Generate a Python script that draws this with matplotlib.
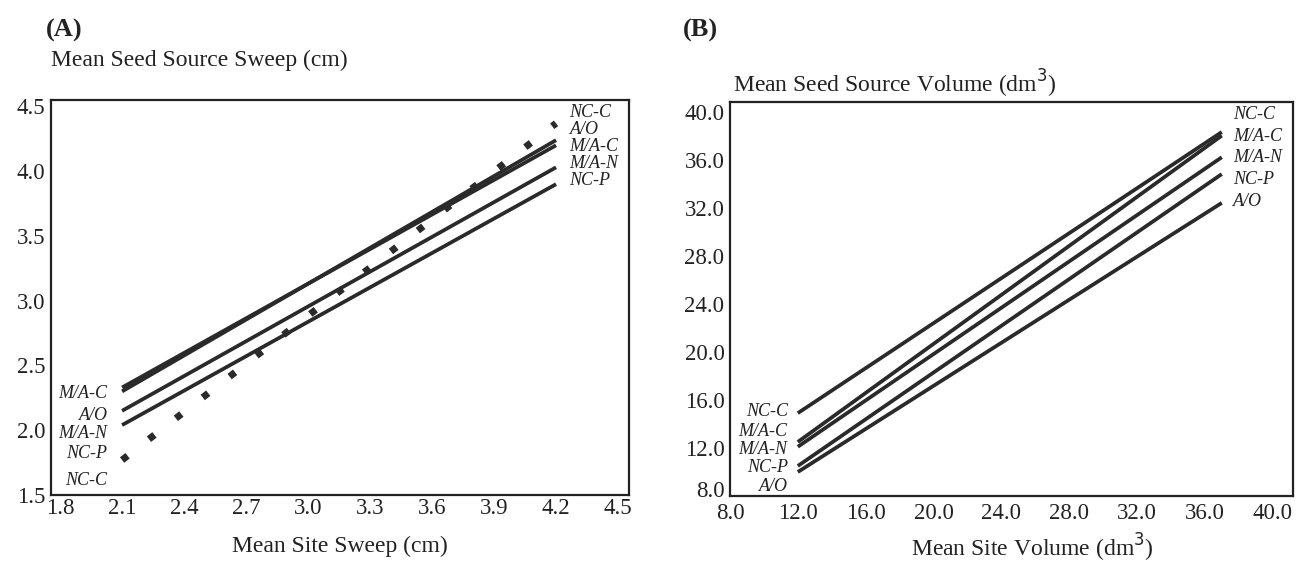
import matplotlib
matplotlib.use("Agg")
import matplotlib.pyplot as plt
import matplotlib.transforms as mtransforms

# ---------------- data ----------------
series_names = ["NC-C", "M/A-C", "A/O", "M/A-N", "NC-P"]

# Panel A: sweep (cm)
sweep_x = [2.1, 4.2]
sweep_y = {
    "NC-C": [1.77, 4.37],
    "M/A-C": [2.33, 4.20],
    "A/O": [2.30, 4.24],
    "M/A-N": [2.15, 4.03],
    "NC-P": [2.04, 3.90],
}
sweep_ticks = [1.8, 2.1, 2.4, 2.7, 3.0, 3.3, 3.6, 3.9, 4.2, 4.5]
sweep_yticks = [1.5, 2.0, 2.5, 3.0, 3.5, 4.0, 4.5]

# Panel B: volume (dm3)
vol_x = [12.0, 37.0]
vol_y = {
    "NC-C": [14.9, 38.3],
    "M/A-C": [12.5, 38.0],
    "M/A-N": [12.1, 36.2],
    "NC-P": [10.5, 34.8],
    "A/O": [10.0, 32.4],
}
vol_ticks = [8.0, 12.0, 16.0, 20.0, 24.0, 28.0, 32.0, 36.0, 40.0]

# label placement (layout only)
A_left_order = ["M/A-C", "A/O", "M/A-N", "NC-P", "NC-C"]
A_left_pos = [2.285, 2.115, 1.977, 1.823, 1.615]
A_right_order = ["NC-C", "A/O", "M/A-C", "M/A-N", "NC-P"]
A_right_pos = [4.45, 4.32, 4.19, 4.06, 3.93]
B_left_order = ["NC-C", "M/A-C", "M/A-N", "NC-P", "A/O"]
B_left_pos = [15.07, 13.4, 11.9, 10.4, 8.75]
B_right_order = ["NC-C", "M/A-C", "M/A-N", "NC-P", "A/O"]
B_right_pos = [39.8, 37.9, 36.2, 34.35, 32.5]

# ---------------- style ----------------
plt.rcParams["font.family"] = ["Liberation Serif", "DejaVu Serif"]
INK = "#222222"
LINE = "#2a2a2a"
W, H = 1305, 569
fig = plt.figure(figsize=(W / 100, H / 100), dpi=100)
fig.patch.set_facecolor("white")


def box(l, t, r, b):
    return [l / W, 1 - b / H, (r - l) / W, (b - t) / H]


axA = fig.add_axes(box(51, 100, 629, 495))
axB = fig.add_axes(box(730, 102, 1293, 496))

for ax in (axA, axB):
    for s in ax.spines.values():
        s.set_linewidth(1.6)
        s.set_color(INK)
    ax.tick_params(length=0, labelsize=16.5, colors=INK)
    ax.set_facecolor("white")

# ----- Panel A -----
axA.set_xlim(1.756, 4.553)
axA.set_ylim(1.5, 4.55)
axA.set_xticks(sweep_ticks)
axA.set_xticklabels([f"{v:.1f}" for v in sweep_ticks])
axA.set_yticks(sweep_yticks)
axA.set_yticklabels([f"{v:.1f}" for v in sweep_yticks])
axA.tick_params(axis="x", pad=2)
axA.tick_params(axis="y", pad=4)

for name in series_names:
    if name == "NC-C":
        axA.plot(sweep_x, sweep_y[name], color=LINE, lw=5.0,
                 linestyle=(0, (1, 3.9)), dash_capstyle="butt")
    else:
        axA.plot(sweep_x, sweep_y[name], color=LINE, lw=2.7,
                 solid_capstyle="butt")

for n, yv in zip(A_left_order, A_left_pos):
    axA.text(2.03, yv, n, ha="right", va="center", fontsize=13,
             style="italic", color=INK)
for n, yv in zip(A_right_order, A_right_pos):
    axA.text(4.265, yv, n, ha="left", va="center", fontsize=13,
             style="italic", color=INK)

fig.text(51 / W, 1 - 60 / H, "Mean Seed Source Sweep (cm)", fontsize=17,
         color=INK, ha="left", va="center")
fig.text((51 + 578 / 2) / W, 1 - 546 / H, "Mean Site Sweep (cm)", fontsize=17,
         color=INK, ha="center", va="center")
fig.text(46 / W, 1 - 30 / H, "(A)", fontsize=19, fontweight="bold",
         color=INK, ha="left", va="center")

# ----- Panel B -----
axB.set_xlim(8.0, 41.2)
axB.set_ylim(8.0, 40.8)
axB.set_xticks(vol_ticks)
axB.set_xticklabels([f"{v:.1f}" for v in vol_ticks])
axB.set_yticks(vol_ticks)
axB.set_yticklabels([f"{v:.1f}" for v in vol_ticks])
axB.tick_params(axis="x", pad=5)
axB.tick_params(axis="y", pad=4)
# lift the lowest y label a little so it clears the x label below it
lowest = axB.get_yticklabels()[0]
lowest.set_transform(lowest.get_transform() +
                     mtransforms.ScaledTranslation(0, 5 / 72, fig.dpi_scale_trans))

for name in series_names:
    axB.plot(vol_x, vol_y[name], color=LINE, lw=2.7, solid_capstyle="butt")

for n, yv in zip(B_left_order, B_left_pos):
    axB.text(11.4, yv, n, ha="right", va="center", fontsize=13,
             style="italic", color=INK)
for n, yv in zip(B_right_order, B_right_pos):
    axB.text(37.65, yv, n, ha="left", va="center", fontsize=13,
             style="italic", color=INK)

fig.text(733 / W, 1 - 84 / H, "Mean Seed Source Volume (dm$^{3}$)", fontsize=17,
         color=INK, ha="left", va="center")
fig.text(1032 / W, 1 - 548 / H, "Mean Site Volume (dm$^{3}$)", fontsize=17,
         color=INK, ha="center", va="center")
fig.text(683 / W, 1 - 30 / H, "(B)", fontsize=19, fontweight="bold",
         color=INK, ha="left", va="center")

fig.savefig("out.png", dpi=100, facecolor="white")
